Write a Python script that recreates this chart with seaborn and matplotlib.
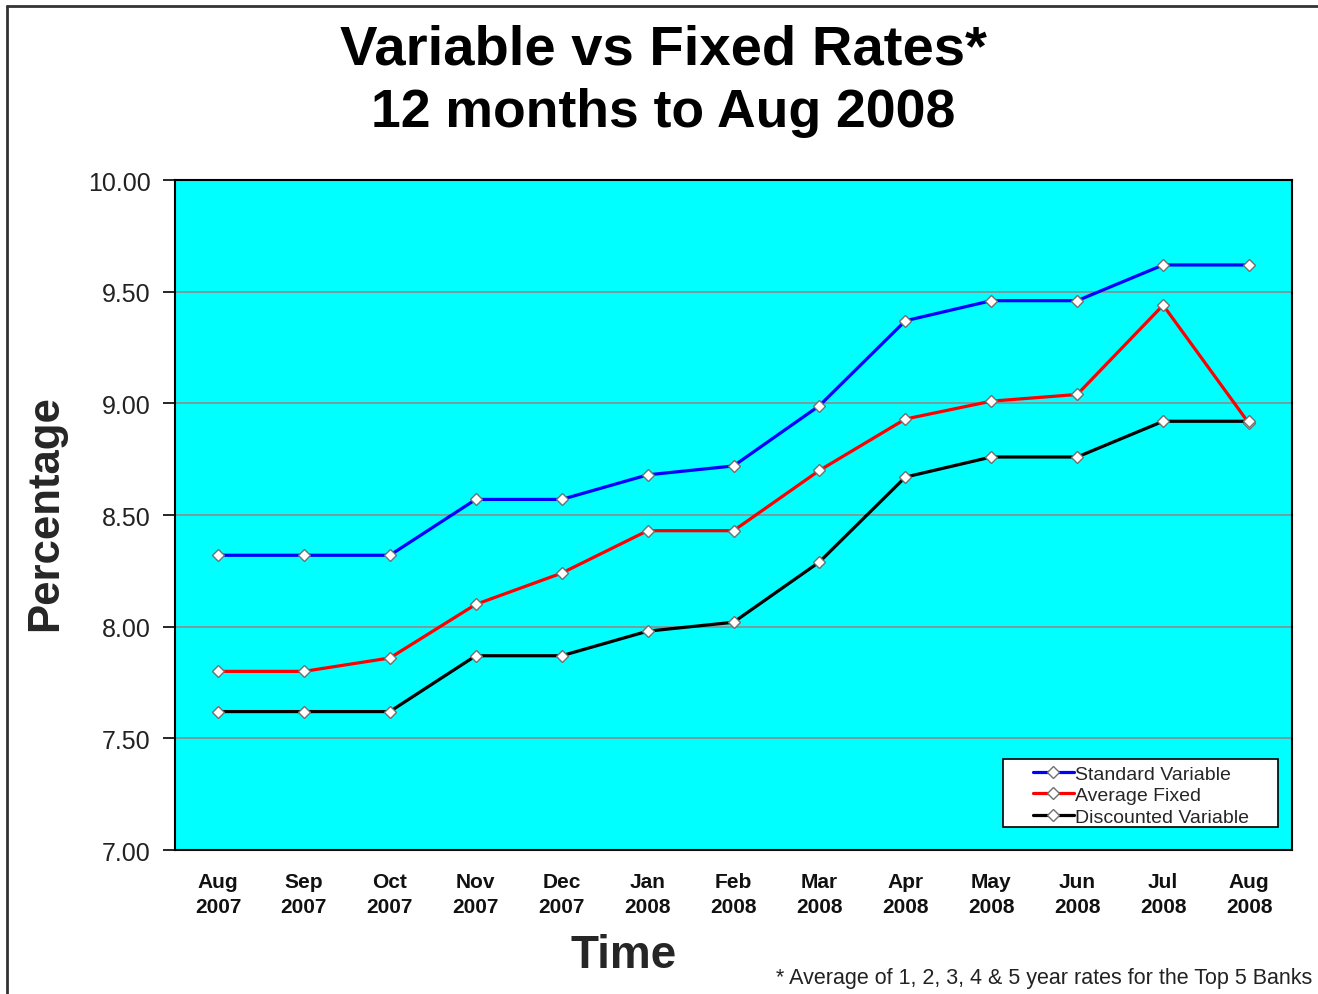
import matplotlib
matplotlib.use("Agg")
import matplotlib.pyplot as plt
from matplotlib.lines import Line2D
from matplotlib.patches import Rectangle
import seaborn as sns
import pandas as pd
import numpy as np

months = ["Aug\n2007", "Sep\n2007", "Oct\n2007", "Nov\n2007", "Dec\n2007", "Jan\n2008",
          "Feb\n2008", "Mar\n2008", "Apr\n2008", "May\n2008", "Jun\n2008", "Jul\n2008",
          "Aug\n2008"]
standard_variable = [8.32, 8.32, 8.32, 8.57, 8.57, 8.68, 8.72, 8.99, 9.37, 9.46, 9.46, 9.62, 9.62]
average_fixed = [7.80, 7.80, 7.86, 8.10, 8.24, 8.43, 8.43, 8.70, 8.93, 9.01, 9.04, 9.44, 8.91]
discounted_variable = [7.62, 7.62, 7.62, 7.87, 7.87, 7.98, 8.02, 8.29, 8.67, 8.76, 8.76, 8.92, 8.92]

series_names = ["Standard Variable", "Average Fixed", "Discounted Variable"]
series_values = [standard_variable, average_fixed, discounted_variable]
series_colors = ["#0000ff", "#ff0000", "#000000"]

y_ticks = [7.00, 7.50, 8.00, 8.50, 9.00, 9.50, 10.00]

sns.set_theme(style="white")
plt.rcParams["font.family"] = ["Liberation Sans", "DejaVu Sans"]

frames = []
for name, vals in zip(series_names, series_values):
    frames.append(pd.DataFrame({"idx": np.arange(len(months)), "rate": vals, "series": name}))
df = pd.concat(frames, ignore_index=True)

fig = plt.figure(figsize=(13.18, 9.95), dpi=100)
ax = fig.add_axes([0.1328, 0.1447, 0.8475, 0.6733])
ax.set_facecolor("#00ffff")

# horizontal gridlines
for yv in y_ticks[1:-1]:
    ax.axhline(yv, color="#8c8c8c", lw=1.2, zorder=1)

line_kw = dict(linewidth=2.3, marker="D", markersize=6.5, markerfacecolor="white",
               markeredgecolor="#707070", markeredgewidth=1.0)
sns.lineplot(data=df, x="idx", y="rate", hue="series", hue_order=series_names,
             palette=series_colors, sort=False, legend=False, ax=ax, zorder=3, **line_kw)

ax.set_xlim(-0.5, len(months) - 0.5)
ax.set_ylim(7.0, 10.0)
ax.set_yticks(y_ticks)
ax.set_yticklabels([f"{v:.2f}" for v in y_ticks], fontsize=18, color="#222222")
ax.set_xticks(np.arange(len(months)))
ax.set_xticklabels(months, fontsize=15, fontweight="bold", color="#111111", linespacing=1.38)
ax.set_xticks(np.arange(len(months) + 1) - 0.5, minor=True)
ax.tick_params(axis="x", which="major", length=0, pad=16)
ax.tick_params(axis="x", which="minor", length=7, width=1.5, color="black", direction="out")
ax.tick_params(axis="y", which="major", length=8.6, width=1.2, color="black", direction="out",
               pad=9, left=True)
for s in ax.spines.values():
    s.set_visible(True)
    s.set_color("black")
    s.set_linewidth(1.5)

ax.set_xlabel("Time", fontsize=33, fontweight="bold")
ax.xaxis.label.set_va("baseline")
ax.xaxis.set_label_coords(0.402, -0.1746)
ax.set_ylabel("Percentage", fontsize=31.5, fontweight="bold")
ax.yaxis.set_label_coords(-0.0975, 0.505)

# legend box with the entries inset from its left edge
ax.add_patch(Rectangle((0.741, 0.0343), 0.2465, 0.1017, transform=ax.transAxes,
                       facecolor="white", edgecolor="black", lw=1.2, zorder=4))
handles = [Line2D([0], [0], color=c, **line_kw) for c in series_colors]
leg = ax.legend(handles, series_names, loc="center left", bbox_to_anchor=(0.768, 0.0815),
                fontsize=14, frameon=False, handlelength=2.1, handletextpad=0.05,
                labelspacing=0.2, borderpad=0.0, borderaxespad=0.0)
leg.set_zorder(5)

fig.text(0.503, 0.9347, "Variable vs Fixed Rates*", ha="center", va="baseline",
         fontsize=40.5, fontweight="bold", color="black")
fig.text(0.503, 0.8724, "12 months to Aug 2008", ha="center", va="baseline",
         fontsize=38.5, fontweight="bold", color="black")
fig.text(0.996, 0.017, "* Average of 1, 2, 3, 4 & 5 year rates for the Top 5 Banks",
         ha="right", va="center", fontsize=15.5, color="#222222")

# outer frame on the top and left edges
fig.add_artist(Line2D([0.005, 1.0], [0.993, 0.993], color="#333333", lw=2.0,
                      transform=fig.transFigure))
fig.add_artist(Line2D([0.005, 0.005], [0.0, 0.993], color="#333333", lw=2.0,
                      transform=fig.transFigure))

fig.savefig("out.png", dpi=100, facecolor="white")
